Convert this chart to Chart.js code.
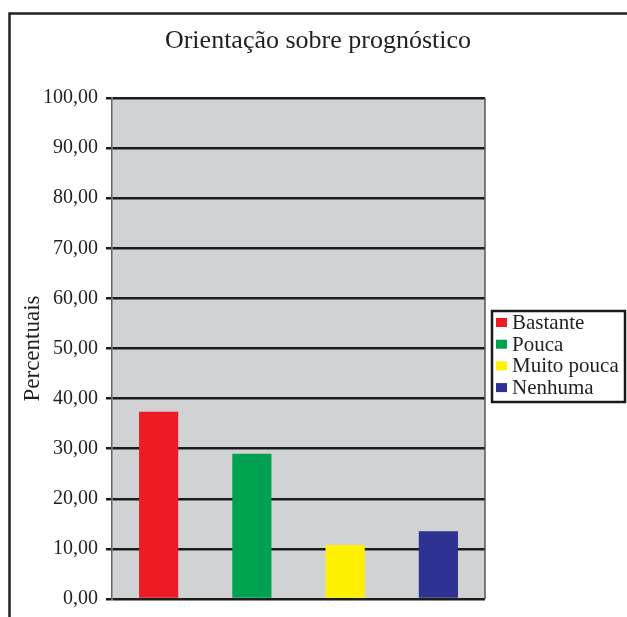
<!DOCTYPE html>
<html>
<head>
<meta charset="utf-8">
<script src="https://cdn.jsdelivr.net/npm/chart.js@4.4.1/dist/chart.umd.min.js"></script>
<style>
  html, body { margin: 0; padding: 0; background: #ffffff; }
  #wrap { position: relative; width: 627px; height: 617px; }
</style>
</head>
<body>
<div id="wrap"><canvas id="c" width="627" height="617"></canvas></div>
<script>
// Response categories and their share (%)
const categories = ['Bastante', 'Pouca', 'Muito pouca', 'Nenhuma'];
const percentValues = [37.4, 29.0, 10.8, 13.5];
const barColors = ['#ed1c24', '#00a14f', '#fff200', '#2e3192'];
const chartTitle = 'Orientação sobre prognóstico';
const yAxisTitle = 'Percentuais';

const SERIF = '"Liberation Serif", "DejaVu Serif", serif';
const INK = '#231f20';

const fmt = v => Number(v).toFixed(2).replace('.', ',');

// Page frame, plot background, title and boxed legend
const decor = {
  id: 'decor',
  beforeDraw(chart) {
    const { ctx, chartArea: a } = chart;
    ctx.save();
    ctx.fillStyle = '#ffffff';
    ctx.fillRect(0, 0, chart.width, chart.height);
    ctx.fillStyle = '#d1d2d4';
    ctx.fillRect(a.left, a.top, a.right - a.left, a.bottom - a.top);
    // outer frame (open at right and bottom)
    ctx.strokeStyle = '#222222';
    ctx.lineWidth = 2.5;
    ctx.beginPath();
    ctx.moveTo(9.5, chart.height + 2);
    ctx.lineTo(9.5, 13.5);
    ctx.lineTo(chart.width + 2, 13.5);
    ctx.stroke();
    // title
    ctx.fillStyle = INK;
    ctx.font = '26px ' + SERIF;
    ctx.textAlign = 'center';
    ctx.textBaseline = 'alphabetic';
    ctx.fillText(chartTitle, 318, 48);
    ctx.restore();
  },
  afterDraw(chart) {
    const { ctx, chartArea: a } = chart;
    ctx.save();
    // right edge of plot
    ctx.strokeStyle = '#555555';
    ctx.lineWidth = 1.5;
    ctx.beginPath();
    ctx.moveTo(a.right, a.top);
    ctx.lineTo(a.right, a.bottom);
    ctx.stroke();

    // legend
    const lx = 492, ly = 311, lw = 133, lh = 91;
    ctx.strokeStyle = '#1a1a1a';
    ctx.lineWidth = 2.5;
    ctx.strokeRect(lx, ly, lw, lh);
    const labels = chart.data.labels;
    const colors = chart.data.datasets[0].backgroundColor;
    ctx.font = '21px ' + SERIF;
    ctx.textAlign = 'left';
    ctx.textBaseline = 'alphabetic';
    labels.forEach((lab, i) => {
      const cy = 322.5 + i * 21.7;
      ctx.fillStyle = colors[i];
      ctx.fillRect(496, cy - 4.5, 11, 9);
      ctx.fillStyle = INK;
      ctx.fillText(lab, 512, cy + 6.5);
    });
    ctx.restore();
  }
};

new Chart(document.getElementById('c'), {
  type: 'bar',
  data: {
    labels: categories,
    datasets: [{
      label: yAxisTitle,
      data: percentValues,
      backgroundColor: barColors,
      borderWidth: 0,
      categoryPercentage: 1,
      barPercentage: 0.42
    }]
  },
  options: {
    responsive: false,
    animation: false,
    devicePixelRatio: 1,
    layout: { padding: { top: 98, right: 142, bottom: 18, left: 0 } },
    plugins: {
      legend: { display: false },
      title: { display: false },
      tooltip: { enabled: false }
    },
    scales: {
      x: { display: false },
      y: {
        min: 0,
        max: 100,
        afterFit(scale) {
          scale.width = 112;
          scale.paddingBottom = 10;
        },
        ticks: {
          stepSize: 10,
          padding: 8,
          color: INK,
          font: { family: SERIF, size: 20 },
          callback: v => fmt(v)
        },
        grid: {
          color: '#1c1c1c',
          lineWidth: 2.5,
          tickLength: 6,
          drawTicks: true
        },
        border: { color: '#666666', width: 1.5 },
        title: {
          display: true,
          text: yAxisTitle,
          color: INK,
          font: { family: SERIF, size: 23 },
          padding: { top: 19, bottom: 0 }
        }
      }
    }
  },
  plugins: [decor]
});
</script>
</body>
</html>
